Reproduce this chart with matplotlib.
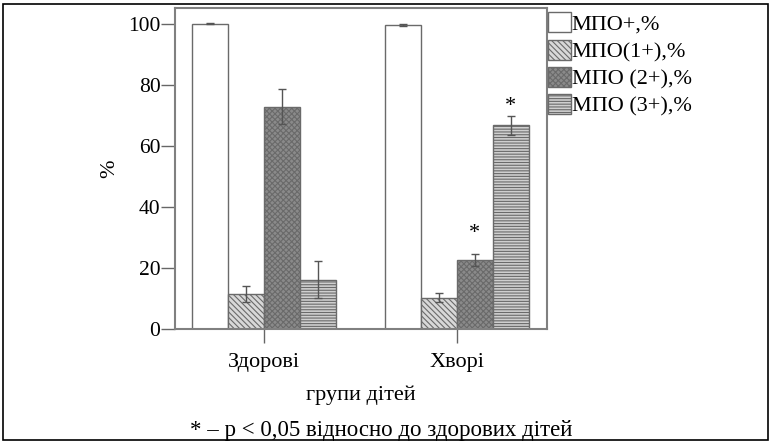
import numpy as np
import matplotlib.pyplot as plt
from matplotlib.patches import Rectangle

plt.rcParams['font.family'] = ['Liberation Serif', 'DejaVu Serif']
plt.rcParams['hatch.linewidth'] = 0.8

# --- DATA ---
groups = ['Здорові', 'Хворі']
series = ['МПО+,%', 'МПО(1+),%', 'МПО (2+),%', 'МПО (3+),%']
healthy = [100.0, 11.4, 72.8, 16.1]
healthy_err = [0.2, 2.6, 5.7, 6.1]
sick = [99.6, 10.3, 22.6, 66.8]
sick_err = [0.4, 1.5, 2.1, 3.1]
star_bars = [2, 3]      # p < 0.05 in sick group
star_y = [31.3, 73.0]   # star heights (%)

# styles per series
faces = ['white', '#d8d8d8', '#8a8a8a', '#cfcfcf']
hatches = [None, '\\\\\\\\\\\\', 'xxxxxx', '------']
edge = '#6a6a6a'

fig = plt.figure(figsize=(7.71, 4.42), dpi=100)
ax = fig.add_axes([0.227, 0.2557, 0.4825, 0.7263])

w = 0.187
x = np.arange(len(groups))
vals = np.array([healthy, sick])
errs = np.array([healthy_err, sick_err])

for i, name in enumerate(series):
    pos = x + (i - 1.5) * w
    ax.bar(pos, vals[:, i], width=w, color=faces[i], edgecolor=edge,
           hatch=hatches[i], linewidth=1.0, label=name)
    ax.errorbar(pos, vals[:, i], yerr=errs[:, i], fmt='none', ecolor='#555555',
                elinewidth=1.0, capsize=3, capthick=1.0)

# stars
for i, sy in zip(star_bars, star_y):
    pos = x[1] + (i - 1.5) * w
    ax.text(pos, sy, '*', ha='center', va='center', fontsize=16)

ax.set_xlim(-0.462, 1.469)
ax.set_ylim(0, 105.2)
ax.set_yticks([0, 20, 40, 60, 80, 100])
ax.set_xticks(x)
ax.set_xticklabels(groups)
ax.tick_params(axis='both', direction='out', color='#666666')
ax.tick_params(axis='y', labelsize=15.5, length=10, width=1.0, pad=0.5)
ax.tick_params(axis='x', labelsize=16, length=10, width=1.0, pad=7.5)
for s in ax.spines.values():
    s.set_color('#808080')
    s.set_linewidth(1.5)

ax.set_ylabel('%', fontsize=16, labelpad=6)
ax.set_xlabel('групи дітей', fontsize=16, labelpad=9.5)

ax.legend(loc='upper left', bbox_to_anchor=(0.992, 1.0), frameon=False,
          fontsize=16, handlelength=1.0, handleheight=1.0, handletextpad=0.05,
          labelspacing=0.21, borderaxespad=0.0, borderpad=0.2)

fig.text(0.495, 0.026, '* – p < 0,05 відносно до здорових дітей', ha='center',
         va='center', fontsize=16.5)

# outer frame
fig.add_artist(Rectangle((0.004, 0.004), 0.992, 0.986, transform=fig.transFigure,
                         fill=False, edgecolor='black', linewidth=1.2))

fig.savefig('out.png', dpi=100)
